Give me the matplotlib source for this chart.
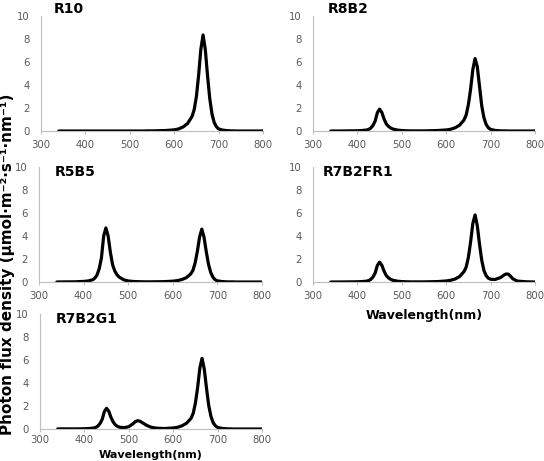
import matplotlib
matplotlib.use("Agg")
import matplotlib.pyplot as plt

# spectra (wavelength in nm, photon flux density)
wavelength = [340, 360, 380, 400, 410, 420, 425, 430, 435, 440,
              445, 450, 455, 460, 465, 470, 475, 480, 490, 500,
              510, 515, 520, 525, 530, 540, 550, 560, 580, 600,
              610, 620, 630, 640, 645, 650, 655, 660, 665, 670,
              675, 680, 685, 690, 695, 700, 710, 720, 725, 730,
              735, 740, 745, 750, 760, 780, 800]

r10 = [0, 0, 0, 0, 0, 0, 0, 0, 0, 0,
       0, 0, 0, 0, 0, 0, 0, 0, 0, 0,
       0, 0, 0, 0, 0, 0.01, 0.01, 0.02, 0.04, 0.1,
       0.18, 0.35, 0.65, 1.25, 1.85, 3.0, 4.85, 7.1, 8.35, 7.1,
       4.85, 2.85, 1.5, 0.75, 0.38, 0.18, 0.07, 0.03, 0.02, 0.01,
       0.01, 0, 0, 0, 0, 0, 0]

r8b2 = [0, 0, 0.01, 0.02, 0.04, 0.08, 0.13, 0.25, 0.48, 0.86,
        1.6, 1.9, 1.62, 1.05, 0.62, 0.4, 0.26, 0.17, 0.08, 0.04,
        0.02, 0.015, 0.01, 0.01, 0.01, 0.01, 0.01, 0.02, 0.04, 0.09,
        0.15, 0.28, 0.5, 0.95, 1.4, 2.3, 3.65, 5.35, 6.3, 5.6,
        3.9, 2.2, 1.15, 0.57, 0.28, 0.14, 0.05, 0.02, 0.01, 0.01,
        0.01, 0, 0, 0, 0, 0, 0]

r5b5 = [0, 0.01, 0.015, 0.05, 0.09, 0.19, 0.33, 0.6, 1.15, 2.1,
        4.0, 4.7, 4.0, 2.6, 1.5, 0.95, 0.62, 0.42, 0.19, 0.09,
        0.05, 0.04, 0.03, 0.025, 0.02, 0.015, 0.015, 0.02, 0.03, 0.07,
        0.12, 0.21, 0.37, 0.69, 1.0, 1.65, 2.65, 3.9, 4.6, 3.9,
        2.65, 1.55, 0.83, 0.41, 0.2, 0.1, 0.04, 0.015, 0.01, 0.01,
        0.01, 0, 0, 0, 0, 0, 0]

r7b2fr1 = [0, 0, 0.01, 0.02, 0.035, 0.07, 0.12, 0.22, 0.43, 0.78,
           1.45, 1.72, 1.46, 0.95, 0.56, 0.36, 0.23, 0.15, 0.07, 0.035,
           0.02, 0.015, 0.01, 0.01, 0.01, 0.01, 0.01, 0.02, 0.035, 0.09,
           0.15, 0.26, 0.47, 0.9, 1.3, 2.15, 3.5, 5.1, 5.83, 4.9,
           3.3, 1.9, 1.0, 0.55, 0.33, 0.24, 0.22, 0.35, 0.45, 0.6,
           0.7, 0.68, 0.5, 0.28, 0.08, 0.02, 0]

r7b2g1 = [0.01, 0.01, 0.01, 0.02, 0.04, 0.08, 0.13, 0.24, 0.46, 0.83,
          1.52, 1.8, 1.53, 1.0, 0.6, 0.35, 0.22, 0.15, 0.12, 0.2,
          0.48, 0.65, 0.72, 0.68, 0.56, 0.32, 0.16, 0.08, 0.04, 0.09,
          0.15, 0.28, 0.5, 0.92, 1.35, 2.25, 3.6, 5.3, 6.15, 5.2,
          3.55, 2.05, 1.1, 0.55, 0.28, 0.14, 0.05, 0.02, 0.01, 0.01,
          0, 0, 0, 0, 0, 0, 0]

names = ["R10", "R8B2", "R5B5", "R7B2FR1", "R7B2G1"]
series = [r10, r8b2, r5b5, r7b2fr1, r7b2g1]
xticks = [300, 400, 500, 600, 700, 800]
yticks = [0, 2, 4, 6, 8, 10]

W, H = 544, 461
fig = plt.figure(figsize=(W / 100, H / 100), dpi=100)

# axes boxes in pixels: left, top(y=10), right, bottom(y=0)
boxes = [(41, 16, 263, 131), (313, 16, 535, 131),
         (39, 167, 262, 282), (313, 167, 535, 282),
         (40, 314, 262, 429)]
title_pos = [(54, 9), (328, 9), (55, 172), (323, 172), (56, 319)]

grey = "#bfbfbf"
tick_col = "#595959"

for i in range(5):
    l, t, r, b = boxes[i]
    ax = fig.add_axes([l / W, 1 - b / H, (r - l) / W, (b - t) / H])
    ax.plot(wavelength, series[i], color="black", lw=2.3, solid_capstyle="round")
    ax.set_xlim(300, 800)
    ax.set_ylim(0, 10)
    ax.set_xticks(xticks)
    ax.set_yticks(yticks)
    for s in ["top", "right"]:
        ax.spines[s].set_visible(False)
    for s in ["left", "bottom"]:
        ax.spines[s].set_color(grey)
        ax.spines[s].set_linewidth(0.8)
    ax.tick_params(axis="x", length=2.5, width=0.8, color=grey,
                   pad=2 if i == 4 else 4, labelsize=7.3, labelcolor=tick_col)
    ax.tick_params(axis="y", length=0, pad=8, labelsize=7.3, labelcolor=tick_col)
    ax.patch.set_alpha(0)
    tx, ty = title_pos[i]
    fig.text(tx / W, 1 - ty / H, names[i], fontsize=10, fontweight="bold",
             ha="left", va="center")

fig.text(8 / W, 1 - 264 / H, "Photon flux density (μmol·m⁻²·s⁻¹·nm⁻¹)",
         rotation=90, fontsize=11, fontweight="bold", ha="center", va="center")
fig.text(424 / W, 1 - 315 / H, "Wavelength(nm)", fontsize=9, fontweight="bold",
         ha="center", va="center")
fig.text(151 / W, 0.002, "Wavelength(nm)", fontsize=8, fontweight="bold",
         ha="center", va="bottom")

fig.savefig("out.png", dpi=100)
